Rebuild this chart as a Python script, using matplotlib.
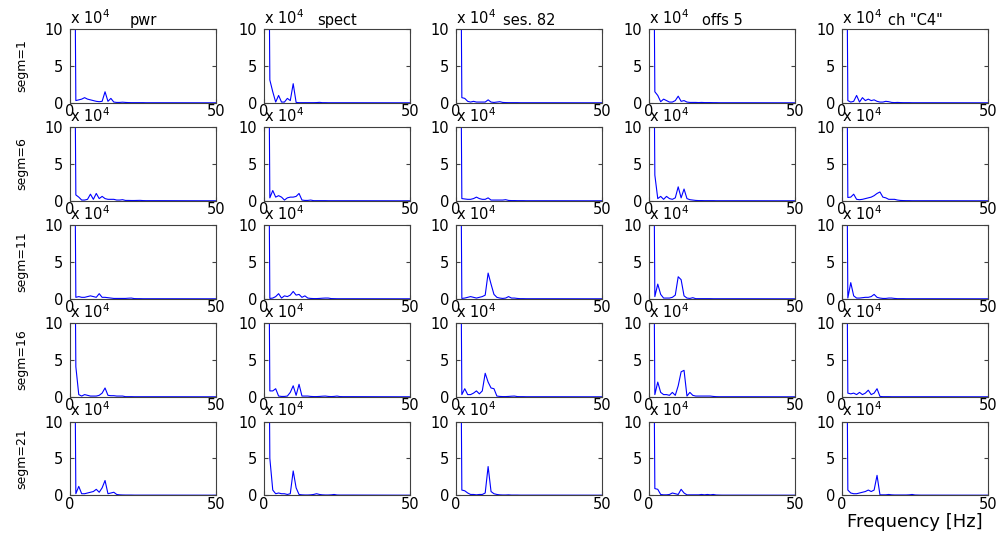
import matplotlib.pyplot as plt

# frequency bins [Hz] (1..30, then the tail at 50)
freqs = list(range(1, 31)) + [50]

# power values in units of 1e4, one list per panel (f = 1..30, 50)
seg1_pwr = [60, 0.3, 0.4, 0.5, 0.7, 0.5, 0.4, 0.3, 0.2, 0.15,
            0.2, 1.5, 0.2, 0.6, 0.1, 0.05, 0.05, 0.08, 0.05, 0.03,
            0.02, 0.02, 0.02, 0.02, 0.02, 0.01, 0.01, 0.01, 0.01, 0.01,
            0.0]
seg1_spect = [60, 3.1, 1.5, 0.1, 1.0, 0.1, 0.1, 0.6, 0.3, 2.6,
              0.05, 0.02, 0.02, 0.02, 0.02, 0.02, 0.02, 0.03, 0.06, 0.02,
              0.02, 0.01, 0.01, 0.01, 0.01, 0.01, 0.01, 0.01, 0.01, 0.01,
              0.0]
seg1_ses = [60, 0.7, 0.6, 0.2, 0.1, 0.2, 0.1, 0.1, 0.1, 0.1,
            0.4, 0.1, 0.05, 0.1, 0.15, 0.05, 0.03, 0.02, 0.02, 0.02,
            0.02, 0.01, 0.01, 0.01, 0.01, 0.01, 0.01, 0.01, 0.01, 0.01,
            0.0]
seg1_offs = [60, 1.5, 1.0, 0.15, 0.5, 0.3, 0.1, 0.1, 0.3, 0.9,
             0.2, 0.3, 0.1, 0.05, 0.05, 0.05, 0.03, 0.05, 0.03, 0.03,
             0.03, 0.02, 0.02, 0.01, 0.01, 0.01, 0.01, 0.01, 0.01, 0.01,
             0.0]
seg1_ch = [60, 0.3, 0.1, 0.2, 1.0, 0.1, 0.7, 0.3, 0.5, 0.3,
           0.4, 0.2, 0.1, 0.1, 0.2, 0.15, 0.05, 0.03, 0.05, 0.03,
           0.02, 0.02, 0.02, 0.01, 0.01, 0.01, 0.01, 0.01, 0.01, 0.01,
           0.0]

seg6_pwr = [60, 0.8, 0.5, 0.1, 0.1, 0.2, 0.9, 0.2, 1.0, 0.3,
            0.6, 0.3, 0.2, 0.2, 0.2, 0.1, 0.1, 0.15, 0.05, 0.05,
            0.04, 0.04, 0.05, 0.06, 0.03, 0.02, 0.02, 0.02, 0.02, 0.02,
            0.0]
seg6_spect = [60, 0.4, 1.4, 0.5, 0.7, 0.5, 0.1, 0.4, 0.5, 0.5,
              0.6, 1.0, 0.1, 0.05, 0.05, 0.1, 0.02, 0.02, 0.02, 0.02,
              0.02, 0.01, 0.01, 0.01, 0.01, 0.01, 0.01, 0.01, 0.01, 0.01,
              0.0]
seg6_ses = [60, 0.3, 0.25, 0.2, 0.2, 0.3, 0.5, 0.3, 0.2, 0.2,
            0.4, 0.1, 0.1, 0.1, 0.1, 0.1, 0.15, 0.05, 0.03, 0.03,
            0.02, 0.02, 0.02, 0.01, 0.01, 0.01, 0.01, 0.01, 0.01, 0.01,
            0.0]
seg6_offs = [60, 3.5, 0.3, 0.6, 0.2, 0.6, 0.3, 0.2, 0.4, 1.9,
             0.4, 1.6, 0.3, 0.15, 0.1, 0.05, 0.03, 0.03, 0.02, 0.02,
             0.02, 0.02, 0.01, 0.01, 0.01, 0.01, 0.01, 0.01, 0.01, 0.01,
             0.0]
seg6_ch = [60, 0.45, 0.5, 0.9, 0.2, 0.15, 0.2, 0.3, 0.4, 0.5,
           0.7, 1.0, 1.2, 0.5, 0.4, 0.2, 0.2, 0.2, 0.1, 0.05,
           0.03, 0.02, 0.02, 0.01, 0.01, 0.01, 0.01, 0.01, 0.01, 0.01,
           0.0]

seg11_pwr = [60, 0.2, 0.3, 0.2, 0.2, 0.3, 0.4, 0.3, 0.2, 0.7,
             0.2, 0.2, 0.15, 0.1, 0.05, 0.05, 0.05, 0.05, 0.05, 0.08,
             0.1, 0.03, 0.02, 0.02, 0.01, 0.01, 0.01, 0.01, 0.01, 0.01,
             0.0]
seg11_spect = [60, 0.05, 0.1, 0.3, 0.7, 0.1, 0.4, 0.3, 0.5, 1.0,
               0.5, 0.6, 0.2, 0.4, 0.1, 0.05, 0.03, 0.03, 0.05, 0.08,
               0.1, 0.1, 0.03, 0.02, 0.01, 0.01, 0.01, 0.01, 0.01, 0.01,
               0.0]
seg11_ses = [60, 0.05, 0.1, 0.2, 0.3, 0.2, 0.1, 0.2, 0.3, 0.5,
             3.5, 2.0, 0.6, 0.2, 0.1, 0.05, 0.1, 0.3, 0.1, 0.1,
             0.05, 0.02, 0.02, 0.01, 0.01, 0.01, 0.01, 0.01, 0.01, 0.01,
             0.0]
seg11_offs = [60, 0.3, 2.0, 0.6, 0.1, 0.1, 0.1, 0.2, 0.5, 3.0,
              2.6, 0.4, 0.1, 0.05, 0.15, 0.02, 0.02, 0.02, 0.02, 0.02,
              0.02, 0.01, 0.01, 0.01, 0.01, 0.01, 0.01, 0.01, 0.01, 0.01,
              0.0]
seg11_ch = [60, 0.1, 2.2, 0.4, 0.1, 0.1, 0.15, 0.2, 0.2, 0.3,
            0.6, 0.2, 0.1, 0.05, 0.05, 0.1, 0.1, 0.05, 0.02, 0.02,
            0.02, 0.01, 0.01, 0.01, 0.01, 0.01, 0.01, 0.01, 0.01, 0.01,
            0.0]

seg16_pwr = [60, 4.1, 0.3, 0.1, 0.3, 0.2, 0.1, 0.1, 0.1, 0.2,
             0.5, 1.2, 0.2, 0.15, 0.15, 0.1, 0.1, 0.1, 0.02, 0.02,
             0.02, 0.01, 0.01, 0.01, 0.01, 0.01, 0.01, 0.01, 0.01, 0.01,
             0.0]
seg16_spect = [60, 0.8, 0.8, 1.1, 0.1, 0.05, 0.05, 0.1, 0.6, 1.5,
               0.2, 1.7, 0.1, 0.1, 0.1, 0.05, 0.03, 0.03, 0.05, 0.08,
               0.1, 0.05, 0.03, 0.05, 0.1, 0.03, 0.02, 0.02, 0.02, 0.02,
               0.0]
seg16_ses = [60, 0.3, 1.1, 0.3, 0.3, 0.5, 0.8, 0.4, 0.8, 3.2,
             2.0, 1.2, 1.1, 0.1, 0.05, 0.03, 0.03, 0.05, 0.08, 0.1,
             0.03, 0.02, 0.02, 0.01, 0.01, 0.01, 0.01, 0.01, 0.01, 0.01,
             0.0]
seg16_offs = [60, 0.3, 2.0, 0.6, 0.3, 0.3, 0.2, 0.6, 0.2, 1.5,
              3.4, 3.6, 0.1, 0.6, 0.2, 0.1, 0.1, 0.1, 0.1, 0.1,
              0.1, 0.05, 0.02, 0.01, 0.01, 0.01, 0.01, 0.01, 0.01, 0.01,
              0.0]
seg16_ch = [60, 0.5, 0.4, 0.5, 0.3, 0.6, 0.3, 0.5, 0.9, 0.3,
            0.5, 1.1, 0.05, 0.02, 0.02, 0.02, 0.01, 0.01, 0.01, 0.01,
            0.01, 0.01, 0.01, 0.01, 0.01, 0.01, 0.01, 0.01, 0.01, 0.01,
            0.0]

seg21_pwr = [60, 0.2, 1.2, 0.2, 0.2, 0.3, 0.4, 0.5, 0.8, 0.4,
             1.0, 2.0, 0.2, 0.3, 0.4, 0.1, 0.05, 0.03, 0.02, 0.02,
             0.02, 0.01, 0.01, 0.01, 0.01, 0.01, 0.01, 0.01, 0.01, 0.01,
             0.0]
seg21_spect = [60, 5.0, 0.7, 0.2, 0.3, 0.2, 0.2, 0.1, 0.2, 3.3,
               1.0, 0.1, 0.05, 0.03, 0.03, 0.05, 0.1, 0.2, 0.1, 0.05,
               0.03, 0.03, 0.05, 0.1, 0.03, 0.02, 0.02, 0.02, 0.02, 0.02,
               0.0]
seg21_ses = [60, 0.7, 0.6, 0.3, 0.1, 0.1, 0.05, 0.1, 0.1, 0.3,
             3.9, 0.5, 0.2, 0.1, 0.05, 0.03, 0.03, 0.05, 0.02, 0.02,
             0.02, 0.01, 0.01, 0.01, 0.01, 0.01, 0.01, 0.01, 0.01, 0.01,
             0.0]
seg21_offs = [60, 0.9, 0.8, 0.1, 0.05, 0.05, 0.1, 0.3, 0.2, 0.1,
              0.8, 0.3, 0.05, 0.05, 0.05, 0.05, 0.05, 0.1, 0.05, 0.1,
              0.05, 0.1, 0.03, 0.02, 0.01, 0.01, 0.01, 0.01, 0.01, 0.01,
              0.0]
seg21_ch = [60, 0.7, 0.3, 0.2, 0.2, 0.3, 0.4, 0.5, 0.7, 0.5,
            0.7, 2.7, 0.05, 0.05, 0.05, 0.1, 0.05, 0.03, 0.03, 0.03,
            0.03, 0.03, 0.05, 0.1, 0.03, 0.02, 0.01, 0.01, 0.01, 0.01,
            0.0]

columns = ["pwr", "spect", "ses. 82", "offs 5", 'ch "C4"']
segments = [1, 6, 11, 16, 21]
panels = [
    [seg1_pwr, seg1_spect, seg1_ses, seg1_offs, seg1_ch],
    [seg6_pwr, seg6_spect, seg6_ses, seg6_offs, seg6_ch],
    [seg11_pwr, seg11_spect, seg11_ses, seg11_offs, seg11_ch],
    [seg16_pwr, seg16_spect, seg16_ses, seg16_offs, seg16_ch],
    [seg21_pwr, seg21_spect, seg21_ses, seg21_offs, seg21_ch],
]

W, H = 998, 535
fig = plt.figure(figsize=(W / 100, H / 100), dpi=100)
plt.rcParams['font.family'] = ['DejaVu Sans']

# axes placement in pixels
lefts = [70, 264, 456, 649, 842]
tops = [29.3, 127.3, 225.3, 323.3, 421.7]
aw, ah = 146, 73.5

for i, seg in enumerate(segments):
    for j, name in enumerate(columns):
        ax = fig.add_axes([lefts[j] / W, 1 - (tops[i] + ah) / H, aw / W, ah / H])
        ax.plot(freqs, panels[i][j], color="#0000ff", lw=0.8)
        ax.set_xlim(0, 50)
        ax.set_ylim(0, 10)
        ax.set_xticks([0, 50])
        ax.set_yticks([0, 5, 10])
        ax.tick_params(direction="in", top=True, right=True, length=3,
                       labelsize=10.5, color="#404040")
        ax.tick_params(axis="x", pad=1)
        ax.tick_params(axis="y", pad=5)
        for s in ax.spines.values():
            s.set_color("#404040")
            s.set_linewidth(0.8)
        ax.annotate(r"x 10$^4$", xy=(0, 1), xycoords="axes fraction",
                    xytext=(0, 2), textcoords="offset points",
                    ha="left", va="bottom", fontsize=10.5)
        if i == 0:
            ax.set_title(name, fontsize=10.5, pad=3)
        if j == 0:
            fig.text(22 / W, 1 - (tops[i] + ah / 2) / H, f"segm={seg}",
                     rotation=90, ha="center", va="center", fontsize=9)
        if i == 4 and j == 4:
            ax.set_xlabel("Frequency [Hz]", fontsize=13, labelpad=1)

plt.savefig("out.png", dpi=100)
